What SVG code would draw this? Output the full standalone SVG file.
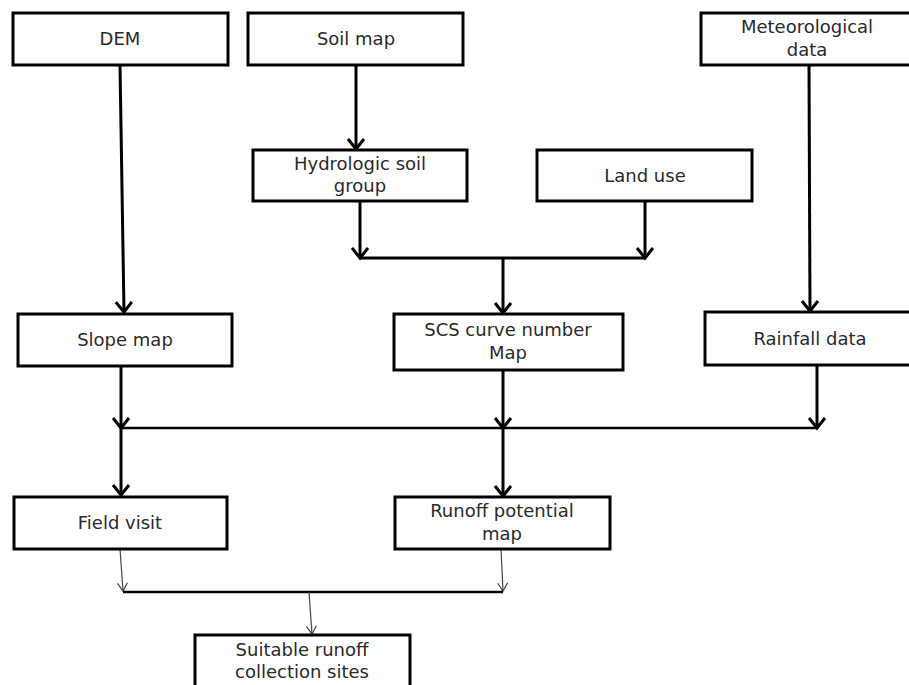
<svg xmlns="http://www.w3.org/2000/svg" width="909" height="685" viewBox="0 0 909 685">
<style>
.box{fill:#fff;stroke:#000;stroke-width:3}
.t{font-family:"DejaVu Sans",sans-serif;font-size:18px;fill:#2a2a2a;text-anchor:middle}
.c{fill:none;stroke:#000;stroke-width:3}
.ct{fill:none;stroke:#444;stroke-width:1.2}
.h{fill:none;stroke:#000;stroke-width:2.5}
</style>
<defs>
<marker id="ah" markerUnits="userSpaceOnUse" viewBox="-12 -10 14 20" refX="0" refY="0" markerWidth="14" markerHeight="20" orient="auto" overflow="visible">
<path d="M-10,-8 L0,0 L-10,8" fill="none" stroke="#000" stroke-width="3"/>
</marker>
<marker id="at" markerUnits="userSpaceOnUse" viewBox="-10 -6 12 12" refX="0" refY="0" markerWidth="12" markerHeight="12" orient="auto" overflow="visible">
<path d="M-8,-5 L0,0 L-8,5" fill="none" stroke="#444" stroke-width="1.2"/>
</marker>
</defs>
<rect width="909" height="685" fill="#fff"/>
<g id="connectors">
<line class="c" x1="120" y1="65" x2="124" y2="312" marker-end="url(#ah)"/>
<line class="c" x1="356" y1="65" x2="356" y2="149" marker-end="url(#ah)"/>
<line class="c" x1="360" y1="201" x2="360" y2="258" marker-end="url(#ah)"/>
<line class="c" x1="645" y1="201" x2="645" y2="258" marker-end="url(#ah)"/>
<line class="c" x1="360" y1="258" x2="646" y2="258"/>
<line class="c" x1="503" y1="258" x2="503" y2="313" marker-end="url(#ah)"/>
<line class="c" x1="809" y1="65" x2="810" y2="311" marker-end="url(#ah)"/>
<line class="c" x1="121" y1="366" x2="121" y2="428" marker-end="url(#ah)"/>
<line class="c" x1="503" y1="370" x2="503" y2="428" marker-end="url(#ah)"/>
<line class="c" x1="817" y1="365" x2="817" y2="428" marker-end="url(#ah)"/>
<line class="h" x1="121" y1="428" x2="818" y2="428"/>
<line class="c" x1="121" y1="428" x2="121" y2="495" marker-end="url(#ah)"/>
<line class="c" x1="503" y1="428" x2="503" y2="496" marker-end="url(#ah)"/>
<line class="ct" x1="120" y1="549" x2="123" y2="591" marker-end="url(#at)"/>
<line class="ct" x1="501" y1="549" x2="503" y2="591" marker-end="url(#at)"/>
<line class="h" x1="123" y1="592" x2="503" y2="592"/>
<line class="ct" x1="309" y1="592" x2="312" y2="634" marker-end="url(#at)"/>
</g>
<g id="dem"><rect class="box" x="13" y="13" width="215" height="52"/><text class="t" x="120" y="45">DEM</text></g>
<g id="soil-map"><rect class="box" x="248" y="13" width="215" height="52"/><text class="t" x="356" y="45">Soil map</text></g>
<g id="meteorological-data"><rect class="box" x="701" y="13" width="215" height="52"/><text class="t" x="807" y="33">Meteorological</text><text class="t" x="807" y="56">data</text></g>
<g id="hydrologic-soil-group"><rect class="box" x="253" y="150" width="214" height="51"/><text class="t" x="360" y="170">Hydrologic soil</text><text class="t" x="360" y="192">group</text></g>
<g id="land-use"><rect class="box" x="537" y="150" width="215" height="51"/><text class="t" x="645" y="182">Land use</text></g>
<g id="slope-map"><rect class="box" x="18" y="314" width="214" height="52"/><text class="t" x="125" y="346">Slope map</text></g>
<g id="scs-curve-number-map"><rect class="box" x="394" y="314" width="229" height="56"/><text class="t" x="508" y="336">SCS curve number</text><text class="t" x="508" y="359">Map</text></g>
<g id="rainfall-data"><rect class="box" x="705" y="312" width="211" height="53"/><text class="t" x="810" y="345">Rainfall data</text></g>
<g id="field-visit"><rect class="box" x="14" y="497" width="213" height="52"/><text class="t" x="120" y="529">Field visit</text></g>
<g id="runoff-potential-map"><rect class="box" x="395" y="497" width="215" height="52"/><text class="t" x="502" y="517">Runoff potential</text><text class="t" x="502" y="540">map</text></g>
<g id="suitable-runoff-collection-sites"><rect class="box" x="195" y="635" width="215" height="60"/><text class="t" x="302" y="656">Suitable runoff</text><text class="t" x="302" y="678">collection sites</text></g>
</svg>
